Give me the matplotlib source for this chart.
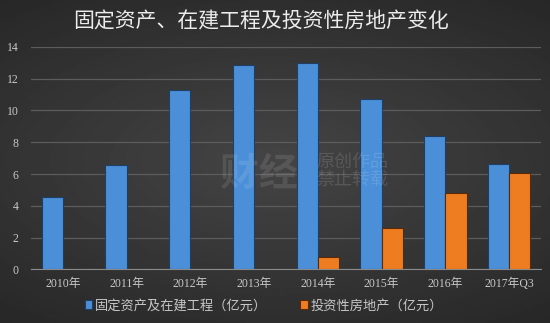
import numpy as np
import matplotlib
matplotlib.use("Agg")
from matplotlib import pyplot as plt

plt.rcParams['font.family'] = ['Liberation Serif', 'Noto Sans CJK SC', 'DejaVu Sans']

# data
categories = ["2010年", "2011年", "2012年", "2013年", "2014年", "2015年", "2016年", "2017年Q3"]
fixed_assets = [4.53, 6.56, 11.28, 12.85, 12.99, 10.69, 8.40, 6.60]
invest_property = [0, 0, 0, 0, 0.75, 2.58, 4.78, 6.04]
series_names = ["固定资产及在建工程（亿元）", "投资性房地产（亿元）"]
yticks = [0, 2, 4, 6, 8, 10, 12, 14]

fig = plt.figure(figsize=(5.5, 3.23), dpi=100)

# dark radial background
bg = fig.add_axes([0, 0, 1, 1], zorder=-10)
yy, xx = np.mgrid[-1:1:200j, -1:1:300j]
r = np.sqrt((xx * 0.8) ** 2 + (yy * 1.0) ** 2)
bg.imshow(0.27 - 0.09 * r, cmap='gray', vmin=0, vmax=1, aspect='auto', extent=[0, 1, 0, 1])
bg.axis('off')

ax = fig.add_axes([0.0564, 0.166, 0.927, 0.689])
ax.patch.set_alpha(0)

x = np.arange(len(categories))
w = 0.334
ax.bar(x - w / 2, fixed_assets, w, color='#4a8fd8', edgecolor='#1f3f66', linewidth=0.8,
       label=series_names[0], zorder=3)
ax.bar(x + w / 2, invest_property, w, color='#ee7d22', edgecolor='#5a2a08', linewidth=0.8,
       label=series_names[1], zorder=3)

ax.set_xlim(-0.5, len(categories) - 0.5)
ax.set_ylim(0, 14)
ax.set_yticks(yticks)
ax.set_xticks(x)
ax.set_xticklabels(categories)
ax.grid(axis='y', color='#5c5c5c', linewidth=0.9, zorder=0)
ax.set_axisbelow(True)
for s in ['top', 'right', 'left']:
    ax.spines[s].set_visible(False)
ax.spines['bottom'].set_color('#8a8a8a')
ax.tick_params(axis='both', length=0, colors='#c8c8c8', labelsize=8.5)
ax.tick_params(axis='y', pad=9)
ax.tick_params(axis='x', pad=6)

fig.text(0.475, 0.935, "固定资产、在建工程及投资性房地产变化", ha='center', va='center',
         fontsize=15, color='#ececec', family=['Noto Sans CJK SC'])

# faint watermark
fig.text(0.575, 0.47, "原创作品\n禁止转载", ha='left', va='center', fontsize=13,
         color='#ffffff', alpha=0.13, family=['Noto Sans CJK SC'], linespacing=1.0)
fig.text(0.47, 0.46, "财经", ha='center', va='center', fontsize=28, fontweight='bold',
         color='#ffffff', alpha=0.10, family=['Noto Sans CJK SC'])

leg = fig.legend(loc='center', bbox_to_anchor=(0.48, 0.053), ncol=2, frameon=False,
                 fontsize=9.5, handlelength=0.6, handleheight=0.6, handletextpad=0.2,
                 columnspacing=2.5)
for t in leg.get_texts():
    t.set_color('#c8c8c8')

fig.savefig("out.png", dpi=100)
